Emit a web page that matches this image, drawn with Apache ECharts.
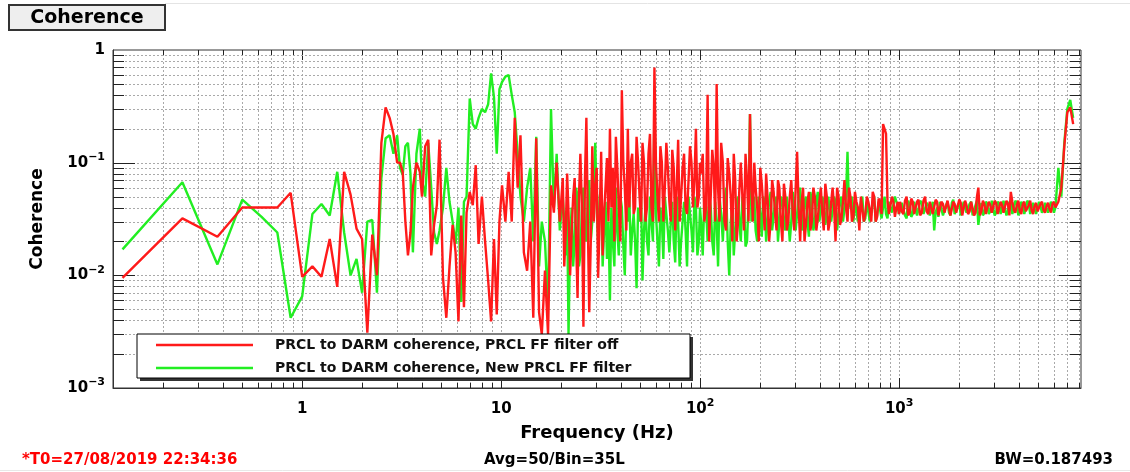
<!DOCTYPE html>
<html><head><meta charset="utf-8">
<script src="https://cdn.jsdelivr.net/npm/echarts@6/dist/echarts.min.js"></script>
<style>html,body{margin:0;padding:0;background:#fff}#c{width:1130px;height:472px}</style>
</head><body><div id="c"></div>
<script>
// ---- frequencies (Hz) ----
const freqsLow = [0.125,0.25,0.375,0.5,0.625,0.75,0.875,1,1.125,1.25,1.375,1.5,1.625,1.75,1.875,2,2.125,2.25,2.375,2.5,2.625,2.75,2.875,3];
const freqsD1 = [3.1,3.2,3.3,3.4,3.5,3.6,3.75,3.9,4.0,4.15,4.3,4.45,4.6,4.75,4.9,5.1,5.3,5.5,5.7,5.9,6.1,6.3,6.5,6.7,6.95,7.2,7.45,7.7,8.0,8.3,8.6,8.9,9.2,9.5,9.8];
const freqsD2 = [10.1,10.5,10.9,11.3,11.7,12.1,12.5,13,13.5,14,14.5,15,15.5,16,16.6,17.2,17.8,18.4,19,19.7,20.4,21.1,21.8,22.6,23.4,24.2,25,25.9,26.8,27.7,28.7,29.7,30.7,31.8,32.9,34,35.2,36.4,37.7,39,40.4,41.8,43.3,44.8,46.3,47.9,49.6,51.3,53.1,55,56.9,58.9,61,63.1,65.3,67.6,70,72.4,74.9,77.5,80.2,83,85.9,88.9,92,95.2,98.5];
const freqsD3 = [101,105,109,113,117,121,125,130,135,140,145,150,155,160,166,172,178,184,190,197,204,211,218,226,234,242,250,259,268,277,287,297,307,318,329,340,352,364,377,390,404,418,433,448,463,479,496,513,531,550,569,589,610,631,653,676,700,724,749,775,802,830,859,889,920,952,985];
const freqsD4 = [1010,1050,1090,1130,1170,1210,1250,1300,1350,1400,1450,1500,1550,1600,1660,1720,1780,1840,1900,1970,2040,2110,2180,2260,2340,2420,2500,2590,2680,2770,2870,2970,3070,3180,3290,3400,3520,3640,3770,3900,4040,4180,4330,4480,4630,4790,4960,5130,5310,5500,5690,5890,6100,6310,6530,6760,7000,7240,7490];
// in-between readings of the dense band
const freqsM2 = [20.75,21.45,22.2,23,23.8,24.6,25.45,26.35,27.25,28.2,29.2,30.2,31.25,32.35,33.45,34.6,35.8,37.05,38.35,39.7,41.1,42.55,44.05,45.55,47.1,48.75,50.45,52.2,54.05,55.95,57.9,59.95,62.05,64.2,66.45,68.8,71.2,73.65,76.2,78.85,81.6,84.45,87.4,90.45,93.6,96.85,99.8];
const freqsM3 = [103,107,111,115,119,123,127.5,132.5,137.5,142.5,147.5,152.5,157.5,163,169,175,181,187,193.5,200.5,207.5,214.5,222,230,238,246,254.5,263.5,272.5,282,292,302,312.5,323.5,334.5,346,358,370.5,383.5,397,411,425.5,440.5,455.5,471,487.5,504.5,522,540.5,559.5,579,599.5,620.5,642,664.5,688,712,736.5,762,788.5,816,844.5,874,904.5,936,968.5,997.5];
const freqsM4 = [1030,1070,1110,1150,1190,1230,1275,1325,1375,1425,1475,1525,1575,1630,1690,1750,1810,1870,1935,2005,2075,2145,2220,2300,2380,2460,2545,2635,2725,2820,2920,3020,3125,3235,3345,3460,3580,3705,3835,3970,4110,4255,4405,4555,4710,4875,5045,5220,5405,5595,5790,5995];

// ---- PRCL FF filter off (red) ----
const redLow = [0.0095,0.032,0.022,0.040,0.040,0.040,0.054,0.0097,0.012,0.0097,0.021,0.0079,0.083,0.052,0.026,0.021,0.0031,0.023,0.010,0.15,0.31,0.25,0.18,0.10];
const redD1 = [0.10,0.083,0.03,0.015,0.024,0.06,0.10,0.083,0.05,0.14,0.16,0.015,0.028,0.042,0.16,0.0095,0.0042,0.012,0.028,0.016,0.0039,0.034,0.0052,0.036,0.055,0.042,0.095,0.019,0.05,0.02,0.009,0.0039,0.021,0.0045,0.03];
const redD2 = [0.063,0.03,0.083,0.03,0.25,0.06,0.175,0.016,0.011,0.03,
  0.0042,0.165,0.0047,0.003,0.011,0.003,0.063,0.036,0.10,0.03,
  0.073,0.024,0.036,0.024,0.073,0.0063,0.12,0.0035,0.25,0.0047,
  0.14,0.06,0.0095,0.125,0.036,0.11,0.2,0.09,0.17,0.04,
  0.44,0.06,0.2,0.1,0.035,0.17,0.05,0.15,0.03,0.12,
  0.04,0.7,0.05,0.14,0.03,0.15,0.045,0.13,0.025,0.16,
  0.05,0.12,0.035,0.14,0.04,0.2,0.05];
const redD3 = [0.08,0.03,0.4,0.05,0.09,0.5,0.03,0.1,0.025,0.08,
  0.02,0.07,0.03,0.1,0.025,0.07,0.27,0.03,0.06,0.02,
  0.065,0.025,0.05,0.03,0.055,0.025,0.06,0.02,0.05,0.03,
  0.07,0.025,0.125,0.02,0.06,0.028,0.055,0.03,0.05,0.032,
  0.06,0.025,0.05,0.03,0.06,0.02,0.05,0.032,0.07,0.03,
  0.05,0.033,0.045,0.025,0.05,0.035,0.045,0.03,0.05,0.033,
  0.045,0.22,0.18,0.035,0.05,0.033,0.045];
const redD4 = [0.045,0.035,0.05,0.036,0.045,0.034,0.047,0.036,0.05,0.035,
  0.044,0.036,0.045,0.034,0.043,0.037,0.045,0.035,0.043,0.036,
  0.044,0.035,0.042,0.037,0.045,0.036,0.06,0.037,0.043,0.036,
  0.042,0.037,0.044,0.036,0.042,0.037,0.043,0.055,0.038,0.042,
  0.037,0.043,0.037,0.042,0.038,0.041,0.037,0.043,0.038,0.041,
  0.039,0.043,0.04,0.045,0.06,0.14,0.28,0.31,0.22];
const redM2 = [0.012,0.08,0.01,0.05,0.02,0.05,0.04,0.07,0.03,0.02,
  0.03,0.09,0.03,0.015,0.06,0.03,0.04,0.02,0.09,0.02,
  0.1,0.025,0.04,0.12,0.04,0.1,0.03,0.1,0.04,0.18,
  0.03,0.1,0.03,0.1,0.06,0.09,0.03,0.09,0.06,0.03,
  0.09,0.04,0.07,0.1,0.07,0.04,0.1];
const redM3 = [0.12,0.04,0.02,0.13,0.03,0.06,0.15,0.03,0.11,0.05,
  0.12,0.02,0.06,0.05,0.12,0.03,0.06,0.1,0.04,0.09,
  0.04,0.08,0.02,0.07,0.035,0.07,0.03,0.065,0.025,0.05,
  0.035,0.06,0.04,0.045,0.02,0.045,0.025,0.06,0.025,0.045,
  0.035,0.065,0.025,0.045,0.04,0.06,0.028,0.045,0.04,0.06,
  0.03,0.055,0.04,0.05,0.03,0.05,0.038,0.055,0.03,0.048,
  0.035,0.2,0.045,0.034,0.045,0.04,0.035];
const redM4 = [0.037,0.046,0.034,0.048,0.035,0.045,0.034,0.046,0.037,0.045,
  0.035,0.047,0.034,0.045,0.036,0.046,0.034,0.045,0.036,0.047,
  0.034,0.046,0.035,0.045,0.034,0.05,0.034,0.046,0.035,0.045,
  0.036,0.046,0.035,0.045,0.036,0.046,0.034,0.045,0.036,0.046,
  0.035,0.045,0.036,0.046,0.035,0.044,0.036,0.045,0.036,0.044,
  0.036,0.045];

// ---- New PRCL FF filter (green) ----
const greenLow = [0.017,0.067,0.0125,0.047,0.033,0.024,0.0042,0.0065,0.035,0.043,0.034,0.083,0.024,0.010,0.014,0.007,0.030,0.031,0.007,0.073,0.165,0.175,0.12,0.175];
const greenD1 = [0.09,0.078,0.14,0.15,0.08,0.016,0.12,0.2,0.07,0.05,0.15,0.06,0.024,0.019,0.025,0.04,0.09,0.045,0.03,0.019,0.04,0.0058,0.045,0.05,0.37,0.22,0.2,0.25,0.3,0.28,0.33,0.62,0.38,0.12,0.45];
const greenD2 = [0.52,0.58,0.6,0.4,0.28,0.12,0.05,0.03,0.06,0.09,
  0.02,0.17,0.012,0.03,0.02,0.005,0.3,0.04,0.12,0.025,
  0.05,0.015,0.003,0.04,0.02,0.05,0.015,0.06,0.02,0.07,
  0.03,0.15,0.02,0.06,0.025,0.014,0.006,0.02,0.06,0.015,
  0.04,0.01,0.03,0.015,0.035,0.0077,0.03,0.009,0.04,0.015,
  0.03,0.31,0.02,0.04,0.014,0.035,0.016,0.045,0.013,0.03,
  0.02,0.045,0.012,0.035,0.016,0.04,0.02];
const greenD3 = [0.03,0.05,0.02,0.04,0.015,0.03,0.05,0.02,0.06,0.01,
  0.04,0.025,0.05,0.02,0.045,0.02,0.27,0.04,0.025,0.05,
  0.022,0.045,0.03,0.055,0.025,0.05,0.03,0.045,0.025,0.05,
  0.03,0.04,0.035,0.06,0.03,0.05,0.022,0.045,0.03,0.055,
  0.03,0.045,0.035,0.05,0.03,0.045,0.034,0.05,0.03,0.125,
  0.04,0.03,0.045,0.035,0.05,0.032,0.045,0.035,0.05,0.034,
  0.045,0.04,0.035,0.045,0.036,0.05,0.04];
const greenD4 = [0.038,0.045,0.032,0.042,0.035,0.046,0.033,0.044,0.036,0.042,
  0.035,0.025,0.04,0.045,0.034,0.042,0.036,0.044,0.035,0.042,
  0.034,0.045,0.036,0.043,0.034,0.042,0.028,0.044,0.036,0.043,
  0.037,0.046,0.036,0.043,0.035,0.047,0.037,0.043,0.036,0.044,
  0.035,0.042,0.036,0.044,0.034,0.043,0.036,0.041,0.038,0.043,
  0.037,0.042,0.04,0.09,0.05,0.15,0.3,0.36,0.25];
const greenM2 = [0.03,0.04,0.02,0.012,0.06,0.012,0.04,0.025,0.05,0.02,
  0.06,0.04,0.05,0.012,0.045,0.03,0.04,0.012,0.025,0.05,
  0.018,0.04,0.05,0.025,0.02,0.04,0.05,0.025,0.02,0.05,
  0.02,0.035,0.012,0.03,0.05,0.025,0.03,0.02,0.05,0.012,
  0.03,0.025,0.05,0.025,0.05,0.015,0.04];
const greenM3 = [0.015,0.04,0.05,0.02,0.045,0.012,0.035,0.045,0.02,0.03,
  0.015,0.045,0.03,0.05,0.018,0.045,0.03,0.05,0.02,0.035,
  0.05,0.02,0.045,0.025,0.045,0.02,0.05,0.03,0.05,0.02,
  0.055,0.025,0.05,0.025,0.045,0.03,0.055,0.025,0.045,0.03,
  0.05,0.028,0.05,0.03,0.05,0.025,0.045,0.03,0.05,0.04,
  0.05,0.045,0.03,0.045,0.03,0.045,0.03,0.045,0.03,0.045,
  0.032,0.05,0.032,0.045,0.035,0.045,0.035];
const greenM4 = [0.044,0.034,0.046,0.033,0.045,0.034,0.046,0.035,0.044,0.034,
  0.045,0.036,0.033,0.046,0.035,0.045,0.034,0.047,0.035,0.044,
  0.033,0.046,0.035,0.045,0.034,0.046,0.036,0.034,0.045,0.035,
  0.046,0.034,0.045,0.035,0.046,0.034,0.045,0.035,0.046,0.034,
  0.045,0.035,0.046,0.035,0.044,0.035,0.045,0.036,0.044,0.036,
  0.045,0.036];

// ---- ticks / grid ----
const xMajorTicks = [1,10,100,1000];
const xMinorTicks = [0.2,0.3,0.4,0.5,0.6,0.7,0.8,0.9,2,3,4,5,6,7,8,9,20,30,40,50,60,70,80,90,200,300,400,500,600,700,800,900,2000,3000,4000,5000,6000,7000,8000];
const yMajorTicks = [0.01,0.1];
const yMinorTicks = [0.002,0.003,0.004,0.005,0.006,0.007,0.008,0.009,0.02,0.03,0.04,0.05,0.06,0.07,0.08,0.09,0.2,0.3,0.4,0.5,0.6,0.7,0.8,0.9];

const legendLabels = ['PRCL to DARM coherence, PRCL FF filter off','PRCL to DARM coherence, New PRCL FF filter'];
const titleText = 'Coherence';
const footLeft = '*T0=27/08/2019 22:34:36';
const footMid = 'Avg=50/Bin=35L';
const footRight = 'BW=0.187493';

function pairs(fs, vs){ return fs.map((f,i)=>[f, vs[i]]); }
function merged(list){
  return [].concat.apply([], list.map(p=>pairs(p[0],p[1]))).sort((a,b)=>a[0]-b[0]);
}
const redData = merged([[freqsLow,redLow],[freqsD1,redD1],[freqsD2,redD2],[freqsD3,redD3],[freqsD4,redD4],[freqsM2,redM2],[freqsM3,redM3],[freqsM4,redM4]]);
const greenData = merged([[freqsLow,greenLow],[freqsD1,greenD1],[freqsD2,greenD2],[freqsD3,greenD3],[freqsD4,greenD4],[freqsM2,greenM2],[freqsM3,greenM3],[freqsM4,greenM4]]);

const FONT = 'DejaVu Sans';
const RED = '#ff1a1a', GREEN = '#22ee22';

function vRender(len){
  return function(params, api){
    const cs = params.coordSys;
    const px = Math.round(api.coord([api.value(0), 0.1])[0]) + 0.5;
    const t = cs.y, b = cs.y + cs.height;
    return {type:'group', children:[
      {type:'line', shape:{x1:px,y1:t,x2:px,y2:b}, style:{stroke:'#a9a9a9',lineWidth:1,lineDash:[2,2]}},
      {type:'line', shape:{x1:px,y1:b,x2:px,y2:b-len}, style:{stroke:'#222',lineWidth:1}},
      {type:'line', shape:{x1:px,y1:t,x2:px,y2:t+len}, style:{stroke:'#222',lineWidth:1}}
    ]};
  };
}
function hRender(len){
  return function(params, api){
    const cs = params.coordSys;
    const py = Math.round(api.coord([1, api.value(1)])[1]) + 0.5;
    const l = cs.x, r = cs.x + cs.width;
    return {type:'group', children:[
      {type:'line', shape:{x1:l,y1:py,x2:r,y2:py}, style:{stroke:'#a9a9a9',lineWidth:1,lineDash:[2,2]}},
      {type:'line', shape:{x1:l,y1:py,x2:l+len,y2:py}, style:{stroke:'#222',lineWidth:1}},
      {type:'line', shape:{x1:r,y1:py,x2:r-len,y2:py}, style:{stroke:'#222',lineWidth:1}}
    ]};
  };
}
function powLabel(v){
  const l = Math.log10(v), r = Math.round(l);
  if (Math.abs(l - r) > 1e-6) return '';
  if (r === 0) return '{b|1}';
  if (r === 1) return '{b|10}';
  return '{b|10}{s|' + (r < 0 ? '\u2212' + (-r) : r) + '}';
}
const rich = {
  b:{fontFamily:FONT,fontWeight:'bold',fontSize:15,color:'#000',lineHeight:22},
  s:{fontFamily:FONT,fontWeight:'bold',fontSize:11,color:'#000',lineHeight:12,verticalAlign:'top'}
};

const chart = echarts.init(document.getElementById('c'), null, {renderer:'canvas'});
chart.setOption({
  animation:false,
  backgroundColor:'#fff',
  grid:{left:113, right:49, top:50, bottom:84, show:true, borderColor:'#333', borderWidth:1, backgroundColor:'transparent', containLabel:false, outerBoundsMode:'none'},
  xAxis:{type:'log', logBase:10, min:0.112, max:8200,
    name:'Frequency (Hz)', nameLocation:'middle', nameGap:36,
    nameTextStyle:{fontFamily:FONT, fontWeight:'bold', fontSize:18, color:'#000'},
    axisLine:{show:true, lineStyle:{color:'#333'}}, axisTick:{show:false}, splitLine:{show:false}, minorTick:{show:false},
    axisLabel:{formatter:powLabel, rich:rich, margin:10}},
  yAxis:{type:'log', logBase:10, min:0.001, max:1,
    name:'Coherence', nameLocation:'middle', nameGap:67, nameRotate:90,
    nameTextStyle:{fontFamily:FONT, fontWeight:'bold', fontSize:17, color:'#000'},
    axisLine:{show:true, lineStyle:{color:'#333'}}, axisTick:{show:false}, splitLine:{show:false},
    axisLabel:{formatter:powLabel, rich:rich, margin:8}},
  series:[
    {type:'custom', coordinateSystem:'cartesian2d', renderItem:vRender(5), data:xMinorTicks.map(v=>[v,0.1]), encode:{x:0,y:1}, silent:true, z:1},
    {type:'custom', coordinateSystem:'cartesian2d', renderItem:vRender(10), data:xMajorTicks.map(v=>[v,0.1]), encode:{x:0,y:1}, silent:true, z:1},
    {type:'custom', coordinateSystem:'cartesian2d', renderItem:hRender(11), data:yMinorTicks.map(v=>[1,v]), encode:{x:0,y:1}, silent:true, z:1},
    {type:'custom', coordinateSystem:'cartesian2d', renderItem:hRender(22), data:yMajorTicks.map(v=>[1,v]), encode:{x:0,y:1}, silent:true, z:1},
    {name:legendLabels[1], type:'line', data:greenData, showSymbol:false, symbol:'none',
      lineStyle:{color:GREEN, width:2.4}, itemStyle:{color:GREEN}, z:3, silent:true},
    {name:legendLabels[0], type:'line', data:redData, showSymbol:false, symbol:'none',
      lineStyle:{color:RED, width:2.4}, itemStyle:{color:RED}, z:4, silent:true}
  ],
  graphic:[
    {type:'line', shape:{x1:165,y1:3.5,x2:1130,y2:3.5}, style:{stroke:'#e4e4e4',lineWidth:1}},
    {type:'line', shape:{x1:0,y1:470.5,x2:1130,y2:470.5}, style:{stroke:'#e8e8e8',lineWidth:1}},
    {type:'rect', shape:{x:9,y:5,width:156,height:25}, style:{fill:'#eeeeee',stroke:'#333',lineWidth:2}},
    {type:'text', x:87, y:18, style:{text:titleText, font:'bold 19px "DejaVu Sans"', fill:'#000', align:'center', verticalAlign:'middle'}},
    {type:'rect', shape:{x:140,y:337,width:553,height:44}, style:{fill:'#333'}, z:10},
    {type:'rect', shape:{x:137,y:334,width:553,height:44}, style:{fill:'#fff',stroke:'#000',lineWidth:1}, z:11},
    {type:'line', shape:{x1:156,y1:345,x2:253,y2:345}, style:{stroke:RED,lineWidth:2.5}, z:12},
    {type:'line', shape:{x1:156,y1:368,x2:253,y2:368}, style:{stroke:GREEN,lineWidth:2.5}, z:12},
    {type:'text', x:275, y:345, style:{text:legendLabels[0], font:'bold 14px "DejaVu Sans"', fill:'#111', verticalAlign:'middle'}, z:12},
    {type:'text', x:275, y:368, style:{text:legendLabels[1], font:'bold 14px "DejaVu Sans"', fill:'#111', verticalAlign:'middle'}, z:12},
    {type:'text', x:22, y:460, style:{text:footLeft, font:'bold 15px "DejaVu Sans"', fill:'#ff0000', verticalAlign:'middle'}},
    {type:'text', x:484, y:460, style:{text:footMid, font:'bold 15px "DejaVu Sans"', fill:'#000', verticalAlign:'middle'}},
    {type:'text', x:1113, y:460, style:{text:footRight, font:'bold 15px "DejaVu Sans"', fill:'#000', align:'right', verticalAlign:'middle'}}
  ]
});
</script>
</body></html>
